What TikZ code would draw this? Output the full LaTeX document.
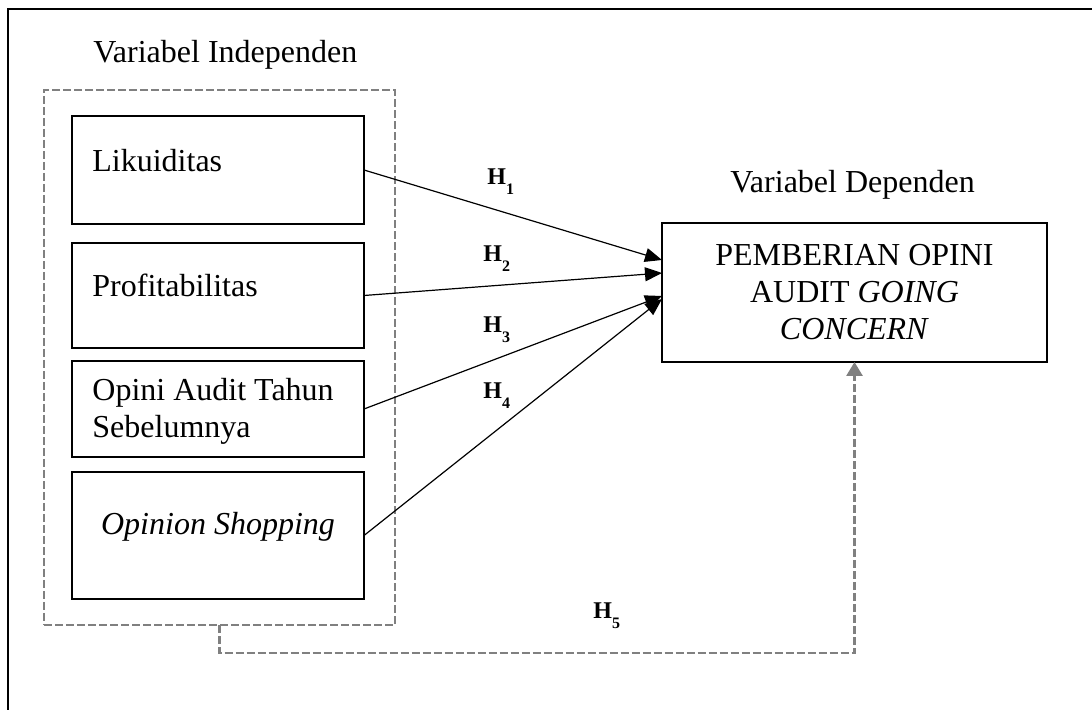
\documentclass[tikz,border=0pt]{standalone}
\usepackage{fontspec}
\setmainfont{Liberation Serif}
\usetikzlibrary{shapes, arrows.meta, positioning, calc}

\definecolor{dashgray}{RGB}{128,128,128}

\tikzset{
	varbox/.style={draw, line width=1.3pt, rectangle, inner sep=0pt, outer sep=0pt, minimum width=146pt},
	vartext/.style={anchor=base west, inner sep=0pt, align=left, font=\fontsize{16}{18.5}\selectfont},
	hyp/.style={anchor=base west, inner sep=0pt, font=\fontsize{12}{14}\selectfont\bfseries},
	hyparrow/.style={line width=0.6pt, -{Triangle[length=8.5pt,width=7pt]}},
	groupline/.style={draw=dashgray, line width=1.4pt, dash pattern=on 4pt off 1.5pt}
}
\newcommand{\hypsub}[1]{H\raisebox{-5pt}{\fontsize{8}{9}\selectfont #1}}

\begin{document}
\begin{tikzpicture}[x=0.5pt,y=0.5pt,yscale=-1,xscale=1]
	\useasboundingbox (0,0) rectangle (1092,710);
	
	%Frame: top and left only
	\draw [line width=1.1pt] (1092,9) -- (8,9) -- (8,710);
	
	% Text Node
	\node [vartext] (indepTitle) at (93,63) {Variabel Independen};
	\node [vartext] (depTitle) at (730,193) {Variabel Dependen};
	
	%Shape: dashed group of independent variables
	\node [groupline, rectangle, inner sep=0pt, outer sep=0pt, minimum width=175.5pt, minimum height=267.5pt] (indep) at (219.5,357.5) {};
	
	%Shape: independent variable boxes
	\node [varbox, minimum height=54pt] (lik) at (218,170) {};
	\node [varbox, minimum height=52.5pt] (prof) at (218,295.5) {};
	\node [varbox, minimum height=48pt] (opini) at (218,409) {};
	\node [varbox, minimum height=63.5pt] (shop) at (218,535.5) {};
	
	\node [vartext] (likText) at (92,172) {Likuiditas};
	\node [vartext] (profText) at (92,297) {Profitabilitas};
	\node [vartext] (opiniText) at (92,438) {Opini Audit Tahun\\Sebelumnya};
	\node [vartext, anchor=base] (shopText) at (218,535) {\itshape Opinion Shopping};
	
	%Shape: dependent variable box
	\node [varbox, minimum width=192.5pt, minimum height=69.5pt, align=center, font=\fontsize{16}{18.5}\selectfont] (dep) at (854.5,292.5) {PEMBERIAN OPINI\\AUDIT \textit{GOING}\\\textit{CONCERN}};
	
	%Arrows
	\draw [hyparrow] (lik.east) -- ($(dep.north west)+(0,37)$);
	\draw [hyparrow] (prof.east) -- ($(dep.north west)+(0,50)$);
	\draw [hyparrow] (opini.east) -- ($(dep.north west)+(0,73)$);
	\draw [hyparrow] (shop.east) -- ($(dep.north west)+(0,76)$);
	\draw [groupline, -{Triangle[length=7pt,width=8pt]}] (indep.south) -- ++(0,28) -| (dep.south);
	
	% Hypothesis labels
	\node [hyp] (h1) at (487,185) {\hypsub{1}};
	\node [hyp] (h2) at (483,262) {\hypsub{2}};
	\node [hyp] (h3) at (483,333) {\hypsub{3}};
	\node [hyp] (h4) at (483,399) {\hypsub{4}};
	\node [hyp] (h5) at (593,618) {\hypsub{5}};
	
\end{tikzpicture}
\end{document}
